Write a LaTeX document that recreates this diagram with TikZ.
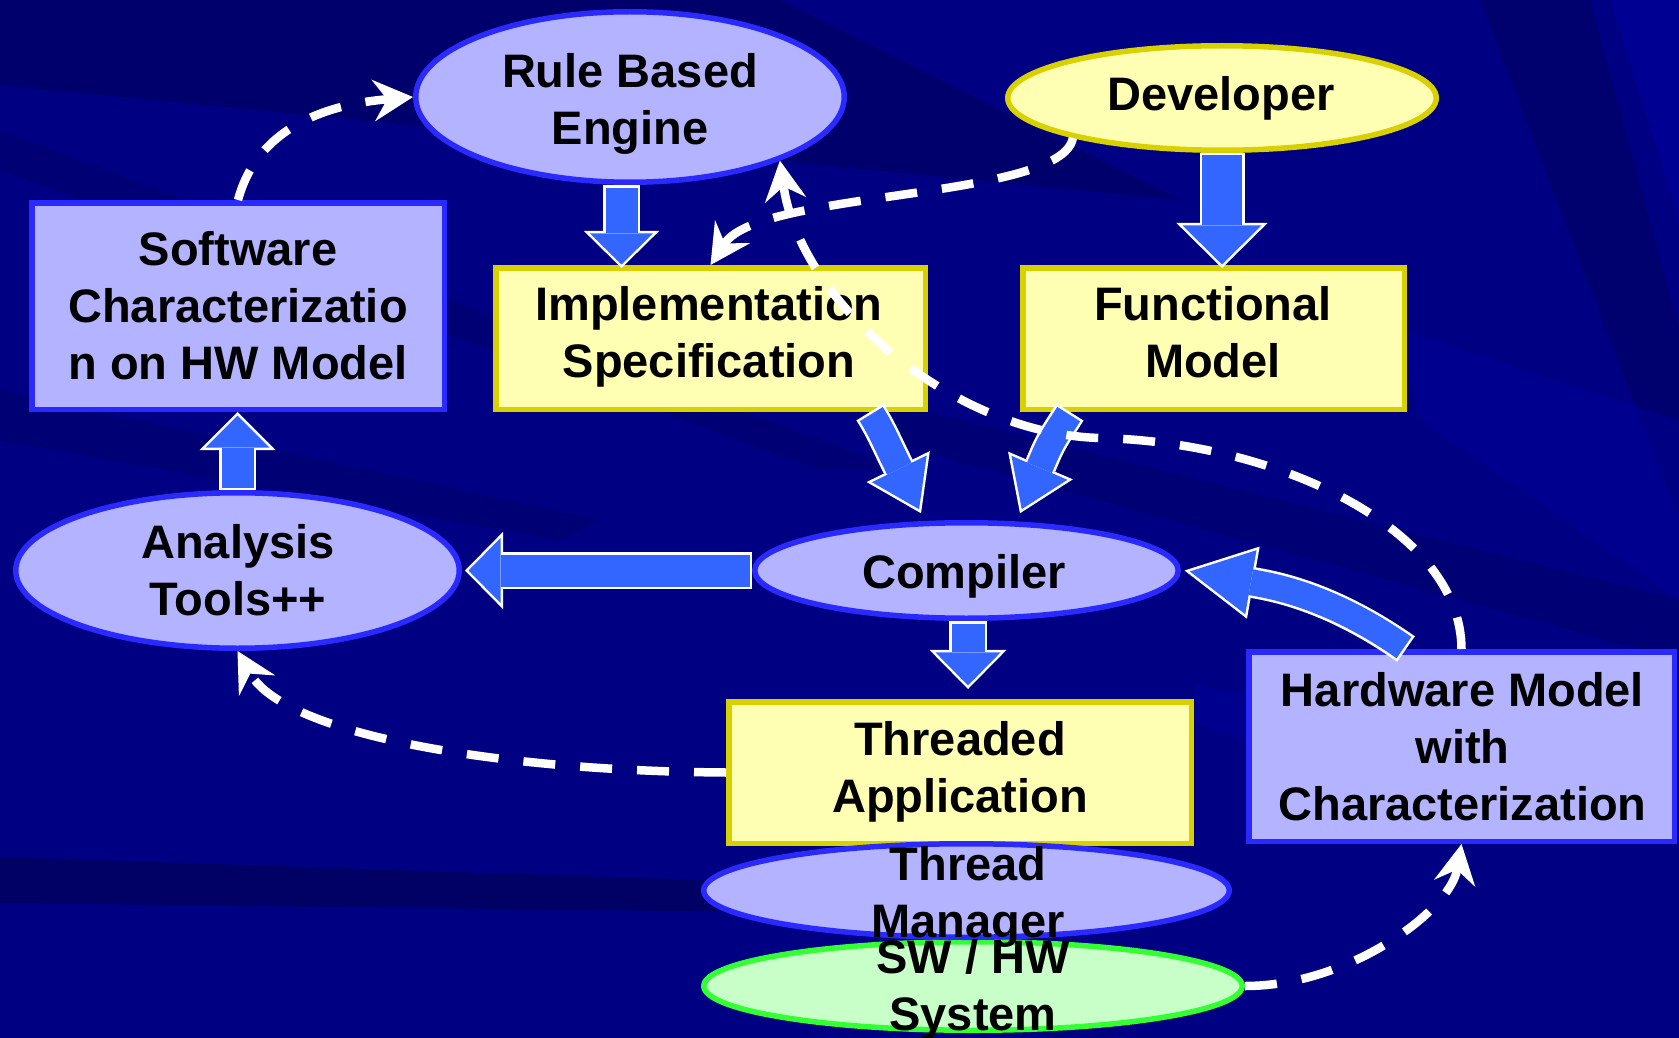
\documentclass[tikz,border=0pt]{standalone}
\usepackage{fontspec}
\setmainfont{Liberation Sans}
\usetikzlibrary{arrows.meta,shapes.geometric}

\definecolor{bgnavy}{HTML}{000082}
\definecolor{bgdark}{HTML}{00005A}
\definecolor{bglight}{HTML}{0000A6}
\definecolor{lavfill}{HTML}{B3B3FF}
\definecolor{lavline}{HTML}{2A2AFF}
\definecolor{yelfill}{HTML}{FFFFB3}
\definecolor{yelline}{HTML}{D9D000}
\definecolor{grnfill}{HTML}{C8FFC8}
\definecolor{grnline}{HTML}{33FF33}
\definecolor{arrowblue}{HTML}{3366FF}

\tikzset{
  shapebase/.style={line width=5.5pt, inner sep=0pt},
  lavrect/.style={shapebase, rectangle, draw=lavline, fill=lavfill},
  lavoval/.style={shapebase, ellipse, draw=lavline, fill=lavfill},
  yelrect/.style={shapebase, rectangle, draw=yelline, fill=yelfill},
  yeloval/.style={shapebase, ellipse, draw=yelline, fill=yelfill},
  grnoval/.style={shapebase, ellipse, draw=grnline, fill=grnfill},
  caption/.style={anchor=north, inner sep=0pt, align=center, text=black,
    font=\fontsize{47}{57}\selectfont\bfseries},
  flow/.style={draw=white, line width=8.5pt, dash pattern=on 32pt off 25pt,
    -{Stealth[length=40pt,width=42pt,inset=14pt,line width=0pt]}},
  arrowbody/.style={draw=arrowblue},
  arrowrim/.style={draw=white},
}

% strut fixing the height of the first text line
\newcommand\capstrut{\rule{0pt}{40pt}}

% thick block arrow with a white rim:
% #1 shaft width, #2 head width, #3 head length, #4 path
\newcommand\blockarrow[4]{%
  \pgfmathsetmacro\BAtan{#2/(2*#3)}%
  \pgfmathsetmacro\BAoff{2.5/sin(atan(\BAtan))}%
  \pgfmathsetmacro\BAlen{#3+\BAoff+2.5}%
  \pgfmathsetmacro\BAwid{2*\BAlen*\BAtan}%
  \pgfmathsetmacro\BAline{#1+5}%
  \draw[arrowrim, line width=\BAline pt,
    -{Triangle[length=\BAlen pt,width=\BAwid pt,line width=0pt]}] #4;
  \draw[arrowbody, line width=#1pt, shorten >=\BAoff pt, shorten <=2.5pt,
    -{Triangle[length=#3pt,width=#2pt,line width=0pt]}] #4;
}

\begin{document}
\begin{tikzpicture}[x=1pt,y=1pt]
\useasboundingbox (0,0) rectangle (1679,-1038);

% background with soft streaks
\fill[bgnavy] (0,0) rectangle (1679,-1038);
\begin{scope}
  \clip (0,0) rectangle (1679,-1038);
  \fill[bgdark, opacity=0.55] (0,0) -- (780,0) -- (1180,-200) -- (0,-85) -- cycle;
  \fill[bgdark, opacity=0.35] (0,-130) -- (0,-170) -- (820,-470) -- (900,-470) -- cycle;
  \fill[bgdark, opacity=0.30] (0,-390) -- (0,-440) -- (560,-540) -- (600,-520) -- cycle;
  \fill[bgdark, opacity=0.70] (0,-857) -- (760,-882) -- (760,-912) -- (0,-903) -- cycle;
  \fill[bgdark, opacity=0.45] (1480,0) -- (1590,0) -- (1679,-330) -- (1679,-520) -- cycle;
  \fill[bgdark, opacity=0.30] (880,-400) -- (1679,-600) -- (1679,-660) -- (880,-440) -- cycle;
  \fill[bglight, opacity=0.45] (1610,0) -- (1679,0) -- (1679,-220) -- cycle;
  \fill[bglight, opacity=0.35] (1400,-330) -- (1679,-420) -- (1679,-600) -- (1420,-420) -- cycle;
  \fill[bglight, opacity=0.35] (1195,-683) -- (1250,-697) -- (1250,-742) -- (1195,-723) -- cycle;
\end{scope}

% shapes
\node[lavoval, minimum width=428.5pt, minimum height=170.5pt] (rbe)  at (630,-97) {};
\node[yeloval, minimum width=428.5pt, minimum height=104.5pt] (dev)  at (1222,-98) {};
\node[lavrect, minimum width=412.5pt, minimum height=206.5pt] (sw)   at (238,-306) {};
\node[yelrect, minimum width=429.5pt, minimum height=141.5pt] (impl) at (710.5,-338.5) {};
\node[yelrect, minimum width=381.5pt, minimum height=141.5pt] (func) at (1213.5,-338.5) {};
\node[lavoval, minimum width=443.5pt, minimum height=155.5pt] (ana)  at (237.5,-570.5) {};
\node[lavoval, minimum width=423.5pt, minimum height=95.5pt]  (comp) at (966.5,-570.5) {};
\node[yelrect, minimum width=462.5pt, minimum height=141.5pt] (thr)  at (960,-772.5) {};
\node[grnoval, minimum width=538.5pt, minimum height=88.5pt]  (sys)  at (973,-986) {};
\node[lavoval, minimum width=525.5pt, minimum height=93.5pt]  (tm)   at (966.5,-890.5) {};
\node[lavrect, minimum width=425.5pt, minimum height=189.5pt] (hw)   at (1461.5,-746.5) {};

% labels
\node[caption] (rbe-t)  at (630,-47.3)   {\capstrut Rule Based\\Engine};
\node[caption] (dev-t)  at (1221,-70)    {\capstrut Developer};
\node[caption] (sw-t)   at (238,-225)    {\capstrut Software\\Characterizatio\\n on HW Model};
\node[caption] (impl-t) at (709,-280)    {\capstrut Implementation\\Specification};
\node[caption] (func-t) at (1213,-280)   {\capstrut Functional\\Model};
\node[caption] (ana-t)  at (238,-518.7)  {\capstrut Analysis\\Tools++};
\node[caption] (comp-t) at (964,-548.7)  {\capstrut Compiler};
\node[caption] (thr-t)  at (960,-715)    {\capstrut Threaded\\Application};
\node[caption] (tm-t)   at (968,-840)    {\capstrut Thread\\Manager};
\node[caption] (sys-t)  at (973,-933)    {\capstrut SW / HW\\System};
\node[caption] (hw-t)   at (1462.5,-666) {\capstrut Hardware Model\\with\\Characterization};

% block arrows
\coordinate (ic-tip) at ([xshift=-45.5pt,yshift=6.75pt]comp.north);
\coordinate (fc-tip) at ([xshift=53.5pt,yshift=6.75pt]comp.north);
\blockarrow{32}{63}{31}{([xshift=-8.5pt]rbe.south) -- ([xshift=-89pt,yshift=-3pt]impl.north)}
\blockarrow{40}{79}{39}{(dev.south) -- ([xshift=8.5pt,yshift=-3pt]func.north)}
\blockarrow{32}{64}{32}{(ana.north) -- (ana.north |- sw.south)}
\blockarrow{32}{65}{32}{(comp.west) -- ([xshift=3pt]ana.east)}
\blockarrow{33}{65}{33}{([xshift=1.5pt]comp.south) -- ([xshift=8pt,yshift=10pt]thr.north)}
\blockarrow{27}{61}{45}{([xshift=159.5pt]impl.south) to[out=-58,in=116]
  ([shift={(-27.2pt,55.7pt)}]ic-tip) -- (ic-tip)}
\blockarrow{27}{61}{45}{([xshift=-143.5pt]func.south) to[out=-122,in=67]
  ([shift={(24.4pt,57pt)}]fc-tip) -- (fc-tip)}
\blockarrow{26}{65}{62}{([xshift=-55.5pt]hw.north) to[out=145,in=-10] ([xshift=3.5pt]comp.east)}

% dashed feedback connectors
\coordinate (arcmid) at (1100,-438);
\draw[flow] (sw.north) to[out=75,in=185] (rbe.west);
\draw[flow] (dev.-165) .. controls (1062,-200) and (760,-190) .. (impl.north);
\draw[flow] (hw.north) .. controls (1461,-530) and (1280,-442) .. (arcmid)
            .. controls (950,-434) and (800,-300) .. (rbe.-23);
\draw[flow] (thr.west) .. controls (500,-771) and (285,-735) .. (ana.south);
\draw[flow] (sys.east) .. controls (1350,-986) and (1450,-910) .. (hw.south);
\end{tikzpicture}
\end{document}
